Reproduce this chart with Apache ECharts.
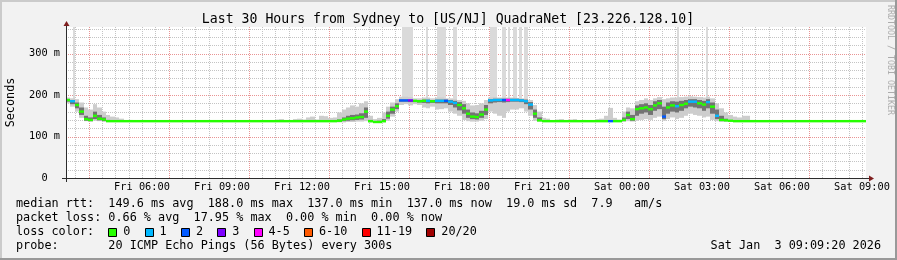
<!DOCTYPE html>
<html><head><meta charset="utf-8">
<script src="https://cdn.jsdelivr.net/npm/echarts@6/dist/echarts.min.js"></script>
<style>html,body{margin:0;padding:0;background:#f2f2f2}#c{width:897px;height:260px}</style>
</head><body><div id="c"></div>
<script>
// ---- time frame: minutes from Fri 00:00 ----
const startMin = 189;          // Fri 03:09
const endMin = 1989;           // Sat 09:09
const stepMin = 10;            // data step
const slotMin = 5;             // spike slot

// ---- median rtt (ms), one value per 10 minutes ----
const median = [
188,185,176,160,142,140,150,143,141,137,
137,137,137,137,137,137,137,137,137,137,
137,137,137,137,137,137,137,137,137,137,
137,137,137,137,137,137,137,137,137,137,
137,137,137,137,137,137,137,137,137,137,
137,137,137,137,137,137,137,137,137,137,
137,138,141,143,144,146,147,160,137,135,
135,137,150,165,173,187,187,187,186,185,
186,186,185,186,186,186,184,181,176,168,
155,148,147,153,165,187,188,188,188,188,
188,188,187,185,177,155,139,137,137,137,
137,137,137,137,137,137,137,137,137,137,
137,137,137,137,137,140,152,142,166,168,
170,166,175,180,148,170,175,173,176,179,
184,184,180,177,183,172,150,140,139,138,
137,137,137,137,137,137,137,137,137,137,
137,137,137,137,137,137,137,137,137,137,
137,137,137,137,137,137,137,137,137,137];

// ---- loss class per step (index into loss legend) ----
const lossClass = [
0,1,0,0,0,0,0,0,0,0,
0,0,0,0,0,0,0,0,0,0,
0,0,0,0,0,0,0,0,0,0,
0,0,0,0,0,0,0,0,0,0,
0,0,0,0,0,0,0,0,0,0,
0,0,0,0,0,0,0,0,0,0,
0,0,0,0,0,0,0,0,0,0,
0,0,0,0,0,2,2,3,0,0,
0,1,0,1,1,2,1,1,0,0,
0,0,0,0,0,1,1,1,2,4,
1,1,1,1,1,0,0,0,0,0,
0,0,0,0,0,0,0,0,0,0,
0,0,2,0,0,0,0,0,0,0,
0,0,0,0,2,0,0,1,0,0,
1,1,0,0,1,0,1,0,0,0,
0,0,0,0,0,0,0,0,0,0,
0,0,0,0,0,0,0,0,0,0,
0,0,0,0,0,0,0,0,0,0];

// ---- smoke: full ping range (ms) ----
const smokeLo = [
180,172,160,145,137,136,138,137,136,136,
136,136,136,null,136,null,null,136,null,null,
null,null,null,null,null,null,null,null,null,null,
null,null,null,null,null,null,null,null,null,null,
null,null,null,null,null,null,null,136,136,null,
null,136,136,136,136,136,136,136,136,136,
136,134,134,135,135,136,136,137,134,133,
133,134,138,148,160,176,178,175,178,176,
170,168,172,165,166,168,160,155,150,140,
137,136,136,138,142,160,155,150,145,160,
165,165,168,160,150,138,136,136,136,null,
136,136,null,136,136,null,136,null,null,136,
136,136,136,136,136,136,137,136,138,140,
142,140,145,148,138,142,146,142,145,150,
155,152,150,146,148,140,137,136,136,136,
136,136,136,136,136,null,null,null,null,null,
null,null,null,null,null,null,null,null,null,null,
null,null,null,null,null,null,null,null,null,null];
const smokeHi = [
194,192,190,182,170,165,178,170,160,152,
148,146,143,null,140,null,null,139,null,null,
null,null,null,null,null,null,null,null,null,null,
null,null,null,null,null,null,null,null,null,null,
null,null,null,null,null,null,null,141,142,null,
null,142,143,141,146,148,141,150,149,145,
146,158,165,170,175,172,180,185,150,142,
145,158,172,182,190,196,196,195,192,192,
194,194,192,194,194,192,192,190,188,186,
180,175,176,180,188,194,195,194,194,194,
194,193,192,191,188,176,160,145,143,null,
141,142,null,141,142,null,140,null,null,142,
143,150,169,145,141,160,170,168,185,188,
192,188,192,195,190,192,194,194,195,196,
197,196,195,194,196,192,180,168,158,152,
148,146,150,150,140,null,null,null,null,null,
null,null,null,null,null,null,null,null,null,null,
null,null,null,null,null,null,null,null,null,null];

// ---- smoke: dense core around the median (ms) ----
const coreLo = [
184,178,168,152,138,137,142,139,137,137,
null,null,null,null,null,null,null,null,null,null,
null,null,null,null,null,null,null,null,null,null,
null,null,null,null,null,null,null,null,null,null,
null,null,null,null,null,null,null,null,null,null,
null,null,null,null,null,null,null,null,null,null,
null,136,137,138,139,140,141,145,135,134,
134,136,143,155,166,184,184,183,183,182,
181,180,181,180,180,180,176,170,163,155,
145,142,141,145,152,180,182,183,182,183,
184,184,183,178,165,145,137,null,null,null,
null,null,null,null,null,null,null,null,null,null,
null,null,null,null,null,137,142,138,150,155,
158,152,162,166,142,155,160,158,162,168,
172,170,168,162,168,155,142,137,137,null,
null,null,null,null,null,null,null,null,null,null,
null,null,null,null,null,null,null,null,null,null,
null,null,null,null,null,null,null,null,null,null];
const coreHi = [
190,188,182,170,150,146,160,152,146,140,
null,null,null,null,null,null,null,null,null,null,
null,null,null,null,null,null,null,null,null,null,
null,null,null,null,null,null,null,null,null,null,
null,null,null,null,null,null,null,null,null,null,
null,null,null,null,null,null,null,null,null,null,
null,141,146,150,152,153,156,170,140,137,
138,142,160,172,180,189,189,189,188,188,
189,189,188,189,189,189,188,186,183,178,
165,158,156,162,176,190,191,191,191,191,
191,191,190,189,183,165,146,null,null,null,
null,null,null,null,null,null,null,null,null,null,
null,null,null,null,null,146,160,152,175,178,
180,176,185,188,172,182,185,184,186,188,
190,190,188,186,190,182,165,150,143,null,
null,null,null,null,null,null,null,null,null,null,
null,null,null,null,null,null,null,null,null,null,
null,null,null,null,null,null,null,null,null,null];

// ---- single pings far above the scale (5-minute slot index, top ms) ----
const spikeSlots = [3,151,152,153,154,155,162,167,168,169,170,174,175,191,192,193,196,197,199,201,202,204,206,207,275,288];
const spikeTop   = [364,364,364,364,364,364,364,364,364,364,364,364,364,364,364,364,364,364,364,364,364,364,364,364,364,364];

// ---- axes ----
const labelTimes = [360,540,720,900,1080,1260,1440,1620,1800,1980];
const labelTexts = ['Fri 06:00','Fri 09:00','Fri 12:00','Fri 15:00','Fri 18:00','Fri 21:00','Sat 00:00','Sat 03:00','Sat 06:00','Sat 09:00'];
const majorGridX = [240,420,600,780,960,1140,1320,1500,1680,1860];
const yLabelValues = [0,100,200,300];
const yLabelTexts = ['0  ','100 m','200 m','300 m'];
const majorGridY = [100,200,300];
const yMax = 364;

// ---- legend ----
const lossLabels = ['0','1','2','3','4-5','6-10','11-19','20/20'];
const lossColors = ['#26ff00','#00b8ff','#0059ff','#7e00ff','#ff00ff','#ff5a00','#ff0000','#a00000'];
const titleText = 'Last 30 Hours from Sydney to [US/NJ] QuadraNet [23.226.128.10]';
const statLines = [
  'median rtt:  149.6 ms avg  188.0 ms max  137.0 ms min  137.0 ms now  19.0 ms sd  7.9   am/s',
  'packet loss: 0.66 % avg  17.95 % max  0.00 % min  0.00 % now',
  'loss color:',
  'probe:       20 ICMP Echo Pings (56 Bytes) every 300s'
];
const dateText = 'Sat Jan  3 09:09:20 2026';

// ---------------------------------------------------------------
const MONO = '"DejaVu Sans Mono", "Liberation Mono", monospace';
const chart = echarts.init(document.getElementById('c'), null, {renderer: 'canvas'});

const gridData = [];
for (let t = 210; t <= 1980; t += 30) if (majorGridX.indexOf(t) < 0) gridData.push([t, 0, 0, 0]);
majorGridX.forEach(t => gridData.push([t, 0, 0, 1]));
for (let v = 20; v <= 360; v += 20) if (majorGridY.indexOf(v) < 0) gridData.push([startMin, v, 1, 0]);
majorGridY.forEach(v => gridData.push([startMin, v, 1, 1]));

const outerData = [], coreData = [], medData = [], spikeData = [];
median.forEach((m, i) => {
  const t = startMin + i * stepMin;
  medData.push([t, m, lossClass[i], stepMin]);
  if (smokeLo[i] != null) outerData.push([t, smokeLo[i], smokeHi[i], stepMin]);
  if (coreLo[i] != null) coreData.push([t, coreLo[i], coreHi[i], stepMin]);
});
spikeSlots.forEach((s, k) => {
  const t = startMin + s * slotMin;
  spikeData.push([t, median[Math.floor(s * slotMin / stepMin)], spikeTop[k], slotMin]);
});

function bandRender(color) {
  return function (params, api) {
    const t0 = api.value(0), lo = api.value(1), hi = api.value(2), dt = api.value(3);
    const a = api.coord([t0, hi]), b = api.coord([t0 + dt, lo]);
    const x0 = Math.round(a[0]), x1 = Math.round(b[0]);
    return {type: 'rect', shape: {x: x0, y: a[1], width: Math.max(1, x1 - x0), height: b[1] - a[1]},
            style: {fill: color}};
  };
}

const option = {
  animation: false,
  backgroundColor: '#f2f2f2',
  grid: {left: 66, right: 31, top: 27, bottom: 82, show: true, backgroundColor: '#ffffff', borderWidth: 0},
  xAxis: {
    type: 'value', min: startMin, max: endMin,
    axisLine: {show: false}, axisTick: {show: false}, splitLine: {show: false},
    axisLabel: {customValues: labelTimes, formatter: v => labelTexts[labelTimes.indexOf(v)] || '',
      fontFamily: MONO, fontSize: 10.3, color: '#000', margin: 4}
  },
  yAxis: {
    type: 'value', min: 0, max: yMax,
    axisLine: {show: false}, axisTick: {show: false}, splitLine: {show: false},
    axisLabel: {customValues: yLabelValues, formatter: v => yLabelTexts[yLabelValues.indexOf(v)] || '',
      fontFamily: MONO, fontSize: 10.3, color: '#000', margin: 6}
  },
  series: [
    { type: 'custom', z: 1, silent: true, data: gridData,
      renderItem: function (params, api) {
        const vert = api.value(2) === 0, major = api.value(3) === 1;
        const style = {stroke: major ? '#e99494' : '#c4c4c4', lineWidth: 1, lineDash: [1, 1]};
        if (vert) {
          const a = api.coord([api.value(0), 0]), b = api.coord([api.value(0), yMax]);
          const x = Math.round(a[0]) + 0.5;
          return {type: 'line', shape: {x1: x, y1: b[1], x2: x, y2: a[1]}, style};
        } else {
          const a = api.coord([startMin, api.value(1)]), b = api.coord([endMin, api.value(1)]);
          const y = Math.round(a[1]) + 0.5;
          return {type: 'line', shape: {x1: a[0], y1: y, x2: b[0], y2: y}, style};
        }
      }
    },
    { type: 'custom', z: 2, silent: true, clip: true, data: spikeData,
      renderItem: bandRender('#dadada') },
    { type: 'custom', z: 3, silent: true, clip: true, data: outerData,
      renderItem: bandRender('#cdcdcd') },
    { type: 'custom', z: 4, silent: true, clip: true, data: coreData,
      renderItem: bandRender('#737373') },
    { type: 'custom', z: 5, silent: true, clip: true, data: medData,
      renderItem: function (params, api) {
        const t0 = api.value(0), m = api.value(1), lc = api.value(2), dt = api.value(3);
        const a = api.coord([t0, m]), b = api.coord([t0 + dt, m]);
        const x0 = Math.round(a[0]), x1 = Math.round(b[0]);
        return {type: 'rect', shape: {x: x0, y: a[1] - 1.2, width: x1 - x0, height: 2.4},
                style: {fill: lossColors[lc]}};
      }
    }
  ],
  graphic: []
};

const g = option.graphic;
// frame
g.push({type: 'rect', shape: {x: 0, y: 0, width: 897, height: 2}, style: {fill: '#cbcbcb'}, silent: true});
g.push({type: 'rect', shape: {x: 0, y: 0, width: 2, height: 260}, style: {fill: '#cbcbcb'}, silent: true});
g.push({type: 'rect', shape: {x: 0, y: 258, width: 897, height: 2}, style: {fill: '#999999'}, silent: true});
g.push({type: 'rect', shape: {x: 895, y: 0, width: 2, height: 260}, style: {fill: '#999999'}, silent: true});
// axes with arrows
g.push({type: 'line', shape: {x1: 62, y1: 178.5, x2: 870, y2: 178.5}, style: {stroke: '#2c2c2c', lineWidth: 1}, z: 100, silent: true});
g.push({type: 'line', shape: {x1: 66.5, y1: 182, x2: 66.5, y2: 25}, style: {stroke: '#2c2c2c', lineWidth: 1}, z: 100, silent: true});
g.push({type: 'polygon', shape: {points: [[63.5, 26], [69.5, 26], [66.5, 21]]}, style: {fill: '#7f1f1f'}, z: 101, silent: true});
g.push({type: 'polygon', shape: {points: [[869, 175.5], [869, 181.5], [874, 178.5]]}, style: {fill: '#7f1f1f'}, z: 101, silent: true});
// title
g.push({type: 'text', x: 448, y: 19.4, style: {text: titleText, font: '13.2px ' + MONO, fill: '#000', align: 'center', verticalAlign: 'middle'}, silent: true});
// y unit
g.push({type: 'text', x: 11, y: 102.5, rotation: Math.PI / 2, style: {text: 'Seconds', font: '11.8px ' + MONO, fill: '#000', align: 'center', verticalAlign: 'middle'}, silent: true});
// watermark
g.push({type: 'text', x: 890, y: 5, rotation: -Math.PI / 2, style: {text: 'RRDTOOL / TOBI OETIKER', font: '8.3px ' + MONO, fill: '#acacac', align: 'left', verticalAlign: 'middle'}, silent: true});
// legend lines
const charW = 7.1, lx = 16, lineY = [203.5, 217.5, 231.5, 245.5];
statLines.forEach((s, k) => {
  g.push({type: 'text', x: lx, y: lineY[k], style: {text: s, font: '11.8px ' + MONO, fill: '#000', align: 'left', verticalAlign: 'middle'}, silent: true});
});
let bx = lx + 13 * charW;
lossLabels.forEach((lab, k) => {
  g.push({type: 'rect', shape: {x: Math.round(bx) + 0.5, y: 228.5, width: 8, height: 8}, style: {fill: lossColors[k], stroke: '#000', lineWidth: 1}, silent: true});
  g.push({type: 'text', x: bx + 15, y: lineY[2], style: {text: lab, font: '11.8px ' + MONO, fill: '#000', align: 'left', verticalAlign: 'middle'}, silent: true});
  bx += 15 + lab.length * charW + 2 * charW;
});
g.push({type: 'text', x: 881, y: lineY[3], style: {text: dateText, font: '11.8px ' + MONO, fill: '#000', align: 'right', verticalAlign: 'middle'}, silent: true});

chart.setOption(option);
</script>
</body></html>
